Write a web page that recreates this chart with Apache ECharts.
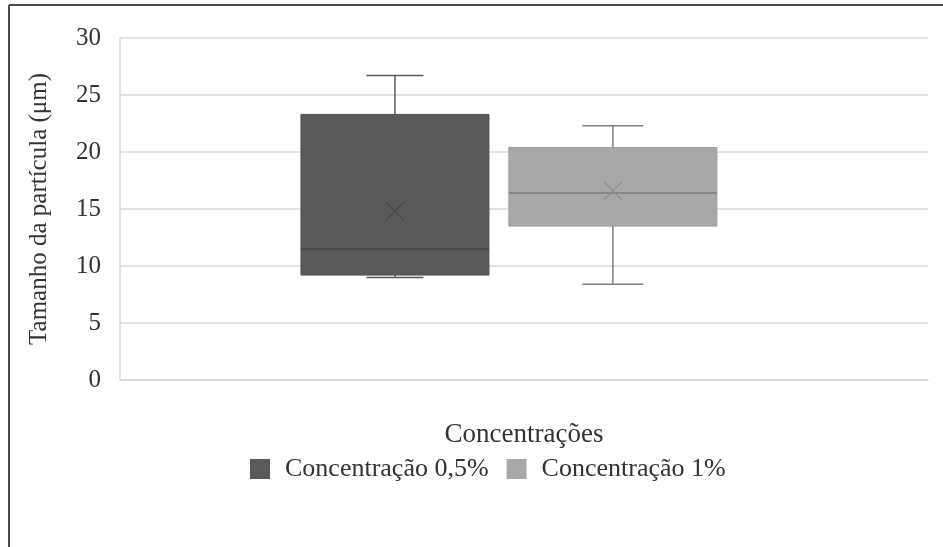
<!DOCTYPE html>
<html>
<head>
<meta charset="utf-8">
<script src="https://cdn.jsdelivr.net/npm/echarts@6/dist/echarts.min.js"></script>
<style>
html,body{margin:0;padding:0;background:#fff;}
#chart{width:943px;height:547px;}
</style>
</head>
<body>
<div id="chart"></div>
<script>
// ---- data ----
const categories = ['Concentrações'];
const seriesNames = ['Concentração 0,5%', 'Concentração 1%'];
// [min, Q1, median, Q3, max, mean]
const conc05 = [9.0, 9.2, 11.5, 23.3, 26.7, 14.8];
const conc1 = [8.4, 13.5, 16.4, 20.4, 22.3, 16.6];
const yTicks = [0, 5, 10, 15, 20, 25, 30];

// ---- style / layout (fractions of category band) ----
const boxStyles = [
  {offset: -0.1597, width: 0.2327, cap: 0.0705, fill: '#5a5a5a', border: '#555555', median: '#434343', whisker: '#595959', mean: '#484848'},
  {offset: 0.110, width: 0.2574, cap: 0.0755, fill: '#a8a8a8', border: '#9a9a9a', median: '#7d7d7d', whisker: '#808080', mean: '#8e8e8e'}
];
const FONT = '"Liberation Serif", "Times New Roman", serif';
const TXT = '#333333';

function makeRender(st) {
  return function (params, api) {
    const x = api.value(0);
    const band = api.size([1, 0])[0];
    const cx = api.coord([x, 0])[0] + st.offset * band;
    const half = st.width * band / 2;
    const capHalf = st.cap * band / 2;
    const yMin = api.coord([x, api.value(1)])[1];
    const yQ1 = api.coord([x, api.value(2)])[1];
    const yMed = api.coord([x, api.value(3)])[1];
    const yQ3 = api.coord([x, api.value(4)])[1];
    const yMax = api.coord([x, api.value(5)])[1];
    const yMean = api.coord([x, api.value(6)])[1];
    const m = 9;
    const lineStyle = {stroke: st.whisker, lineWidth: 1.5};
    return {
      type: 'group',
      children: [
        {type: 'line', shape: {x1: cx, y1: yQ3, x2: cx, y2: yMax}, style: lineStyle},
        {type: 'line', shape: {x1: cx - capHalf, y1: yMax, x2: cx + capHalf, y2: yMax}, style: lineStyle},
        {type: 'line', shape: {x1: cx, y1: yQ1, x2: cx, y2: yMin}, style: lineStyle},
        {type: 'line', shape: {x1: cx - capHalf, y1: yMin, x2: cx + capHalf, y2: yMin}, style: lineStyle},
        {type: 'rect', shape: {x: cx - half, y: yQ3, width: half * 2, height: yQ1 - yQ3},
          style: {fill: st.fill, stroke: st.border, lineWidth: 1}},
        {type: 'line', shape: {x1: cx - half, y1: yMed, x2: cx + half, y2: yMed}, style: {stroke: st.median, lineWidth: 1.5}},
        {type: 'line', shape: {x1: cx - m, y1: yMean - m, x2: cx + m, y2: yMean + m}, style: {stroke: st.mean, lineWidth: 1.2}},
        {type: 'line', shape: {x1: cx - m, y1: yMean + m, x2: cx + m, y2: yMean - m}, style: {stroke: st.mean, lineWidth: 1.2}}
      ]
    };
  };
}

const seriesData = [conc05, conc1];
const series = seriesData.map((vals, i) => ({
  name: seriesNames[i],
  type: 'custom',
  renderItem: makeRender(boxStyles[i]),
  itemStyle: {color: boxStyles[i].fill},
  encode: {x: 0, y: [1, 2, 3, 4, 5, 6]},
  data: [[0].concat(vals)],
  z: 3
}));

const chart = echarts.init(document.getElementById('chart'), null, {renderer: 'canvas'});
chart.setOption({
  animation: false,
  backgroundColor: '#ffffff',
  grid: {left: 120, right: 15, top: 38, bottom: 167},
  xAxis: {
    type: 'category',
    data: categories,
    name: categories[0],
    nameLocation: 'middle',
    nameGap: 41,
    nameTextStyle: {fontFamily: FONT, fontSize: 27, color: TXT},
    axisLine: {show: true, lineStyle: {color: '#d9d9d9', width: 1.5}},
    axisTick: {show: false},
    axisLabel: {show: false},
    splitLine: {show: false}
  },
  yAxis: {
    type: 'value',
    min: yTicks[0],
    max: yTicks[yTicks.length - 1],
    interval: 5,
    name: 'Tamanho da partícula (μm)',
    nameLocation: 'middle',
    nameGap: 68,
    nameTextStyle: {fontFamily: FONT, fontSize: 25, color: TXT},
    axisLine: {show: true, lineStyle: {color: '#d9d9d9', width: 1.5}},
    axisTick: {show: false},
    axisLabel: {fontFamily: FONT, fontSize: 25, color: TXT, margin: 19},
    splitLine: {lineStyle: {color: '#d9d9d9', width: 1.5}}
  },
  legend: {
    data: seriesNames.map(n => ({name: n, icon: 'rect'})),
    left: 245,
    top: 451,
    itemWidth: 20,
    itemHeight: 20,
    itemGap: 18,
    textStyle: {fontFamily: FONT, fontSize: 26, color: TXT, padding: [0, 0, 0, 10]}
  },
  graphic: [
    {type: 'line', shape: {x1: 9, y1: 5, x2: 943, y2: 5}, style: {stroke: '#4a4a4a', lineWidth: 2}},
    {type: 'line', shape: {x1: 9, y1: 5, x2: 9, y2: 547}, style: {stroke: '#4a4a4a', lineWidth: 2}}
  ],
  series: series
});
</script>
</body>
</html>
